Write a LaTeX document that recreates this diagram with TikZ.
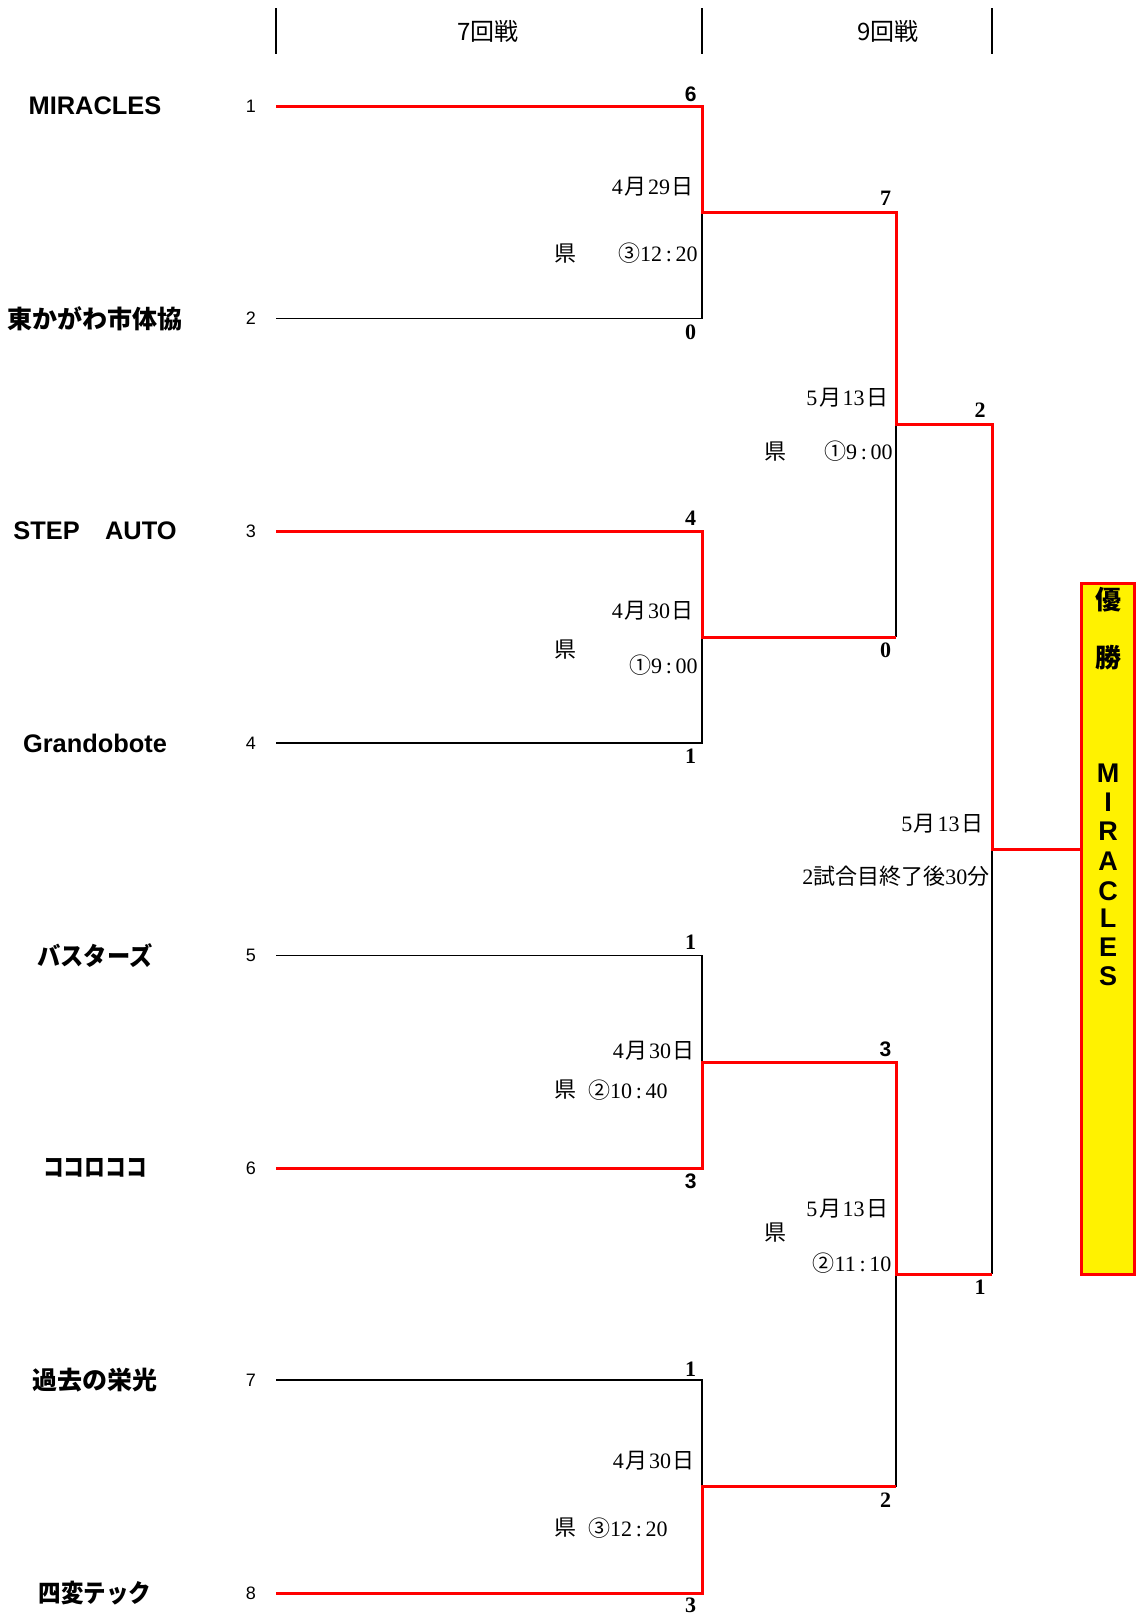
\documentclass[tikz,border=0pt]{standalone}
\usepackage{fontspec}
\setmainfont{Liberation Serif}
\newfontfamily\jp{Noto Sans CJK JP}
\newfontfamily\lsans{Liberation Sans}
\newcommand\J[1]{{\jp #1}}
\newcommand\dsp{\hspace{0.8pt}}
\begin{document}
\begin{tikzpicture}[x=0.5pt,y=-0.5pt,
  winline/.style={draw=red,line width=1.5pt,line join=miter},
  loseline/.style={draw=black,line width=0.7pt},
  hdrline/.style={draw=black,line width=0.7pt},
  teamjp/.style={font=\jp\bfseries\fontsize{12.5}{14}\selectfont},
  teamla/.style={font=\lsans\bfseries\fontsize{12.7}{14}\selectfont},
  seed/.style={font=\lsans\fontsize{9}{10}\selectfont},
  hdr/.style={font=\jp\fontsize{12}{13}\selectfont},
  datetxt/.style={font=\fontsize{11}{12}\selectfont,inner sep=0pt},
  score/.style={font=\bfseries\fontsize{11}{12}\selectfont,inner sep=0pt},
  sscore/.style={font=\lsans\bfseries\fontsize{10.5}{12}\selectfont,inner sep=0pt},
  boxtxt/.style={font=\jp\bfseries\fontsize{13}{14}\selectfont,inner sep=0pt}]
\useasboundingbox (0,0) rectangle (1136,1617);

% header
\coordinate (h1t) at (276,8); \coordinate (h1b) at (276,54);
\coordinate (h2t) at (702,8); \coordinate (h2b) at (702,54);
\coordinate (h3t) at (992,8); \coordinate (h3b) at (992,54);
\draw[hdrline] (h1t) -- (h1b);
\draw[hdrline] (h2t) -- (h2b);
\draw[hdrline] (h3t) -- (h3b);
\node[hdr] (hd7) at (488,31) {7回戦};
\node[hdr] (hd9) at (888,31) {9回戦};

% teams
\node[teamla] (n1) at (95,106) {MIRACLES};
\node[teamjp] (n2) at (95,318.5) {東かがわ市体協};
\node[teamla] (n3) at (95,531) {STEP\hspace{1em}AUTO};
\node[teamla] (n4) at (95,743) {Grandobote};
\node[teamjp] (n5) at (95,955.6) {\scalebox{0.93}[1]{バスターズ}};
\node[teamjp] (n6) at (95,1168) {\scalebox{0.83}[1]{ココロココ}};
\node[teamjp] (n7) at (95,1380) {過去の栄光};
\node[teamjp] (n8) at (95,1593) {\scalebox{0.9}[1]{四変テック}};

\foreach \i/\y in {1/106,2/318.5,3/531,4/743,5/955.6,6/1168,7/1380,8/1593}{
  \node[seed] (s\i) at (251,\y) {\i};
  \coordinate (L\i) at (276,\y);
  \coordinate (R\i) at (702,\y);
}

% round 1 midpoints
\coordinate (m1) at (702,212);   \coordinate (m1r) at (896,212);
\coordinate (m2) at (702,637);   \coordinate (m2r) at (896,637);
\coordinate (m3) at (702,1062);  \coordinate (m3r) at (896,1062);
\coordinate (m4) at (702,1486.5);\coordinate (m4r) at (896,1486.5);
% round 2 midpoints
\coordinate (q1) at (896,424.7); \coordinate (q1r) at (992,424.7);
\coordinate (q2) at (896,1274);  \coordinate (q2r) at (992,1274);
% final
\coordinate (f) at (992,849.5);

% winner box
\node[draw=red,fill=yellow,line width=1.5pt,inner sep=0pt,
      minimum width=26.75pt,minimum height=345.25pt] (box) at (1107.75,928.75) {};

% losing lines
\draw[loseline] (L2) -- (R2) -- (m1);
\draw[loseline] (L4) -- (R4) -- (m2);
\draw[loseline] (L5) -- (R5) -- (m3);
\draw[loseline] (L7) -- (R7) -- (m4);
\draw[loseline] (m2r) -- (q1);
\draw[loseline] (m4r) -- (q2);
\draw[loseline] (q2r) -- (f);

% winning lines
\draw[winline] (L1) -- (R1) -- (m1) -- (m1r) -- (q1) -- (q1r) -- (f) -- (box.west |- f);
\draw[winline] (L3) -- (R3) -- (m2) -- (m2r);
\draw[winline] (L6) -- (R6) -- (m3) -- (m3r) -- (q2) -- (q2r);
\draw[winline] (L8) -- (R8) -- (m4) -- (m4r);

% scores
\node[sscore] (c1) at (690.7,93.8) {6};
\node[score] (c2) at (690.7,332) {0};
\node[score] (c3) at (690.7,518.5) {4};
\node[score] (c4) at (690.7,756.7) {1};
\node[score] (c5) at (690.7,942) {1};
\node[sscore] (c6) at (690.7,1181) {3};
\node[score] (c7) at (690.7,1369) {1};
\node[score] (c8) at (690.7,1605) {3};
\node[score] (d1) at (885.5,198) {7};
\node[score] (d2) at (885.5,650.5) {0};
\node[sscore] (d3) at (885.5,1049.5) {3};
\node[score] (d4) at (885.5,1500) {2};
\node[score] (e1) at (980,410) {2};
\node[score] (e2) at (980,1287.6) {1};

% dates and venues
\node[datetxt,anchor=east] (dt1) at (694,186.6) {4\dsp\J{月}\dsp29\dsp\J{日}};
\node[datetxt] (v1) at (565,253.6) {\J{県}};
\node[datetxt,anchor=east] (t1) at (698,253.6) {\J{③}12\,:\,20};

\node[datetxt,anchor=east] (dt5) at (888.6,398) {5\dsp\J{月}\dsp13\dsp\J{日}};
\node[datetxt] (v5) at (775,451.5) {\J{県}};
\node[datetxt,anchor=east] (t5) at (893,451.5) {\J{①}9\,:\,00};

\node[datetxt,anchor=east] (dt2) at (694,611) {4\dsp\J{月}\dsp30\dsp\J{日}};
\node[datetxt] (v2) at (565,649.5) {\J{県}};
\node[datetxt,anchor=east] (t2) at (698,665) {\J{①}9\,:\,00};

\node[datetxt,anchor=east] (dt7) at (983.5,823.7) {5\dsp\J{月}\dsp13\dsp\J{日}};
\node[datetxt,anchor=east] (t7) at (989.7,876) {2\J{試合目終了後}30\J{分}};

\node[datetxt,anchor=east] (dt3) at (695,1050.5) {4\dsp\J{月}\dsp30\dsp\J{日}};
\node[datetxt] (v3) at (565,1089.7) {\J{県}};
\node[datetxt,anchor=east] (t3) at (668,1089.7) {\J{②}10\,:\,40};

\node[datetxt,anchor=east] (dt6) at (888.6,1209) {5\dsp\J{月}\dsp13\dsp\J{日}};
\node[datetxt] (v6) at (775,1233) {\J{県}};
\node[datetxt,anchor=east] (t6) at (891.7,1263) {\J{②}11\,:\,10};

\node[datetxt,anchor=east] (dt4) at (695,1461) {4\dsp\J{月}\dsp30\dsp\J{日}};
\node[datetxt] (v4) at (565,1528) {\J{県}};
\node[datetxt,anchor=east] (t4) at (668,1528) {\J{③}12\,:\,20};

% winner box text
\node[boxtxt] (w1) at (1108,600) {優};
\node[boxtxt] (w2) at (1108,658) {勝};
\foreach \ch/\y [count=\k] in {M/773,I/802,R/831,A/861,C/891,L/918.5,E/947,S/976}{
  \node[boxtxt,font=\lsans\bfseries\fontsize{13.5}{14}\selectfont] (b\k) at (1108,\y) {\ch};
}
\end{tikzpicture}
\end{document}
